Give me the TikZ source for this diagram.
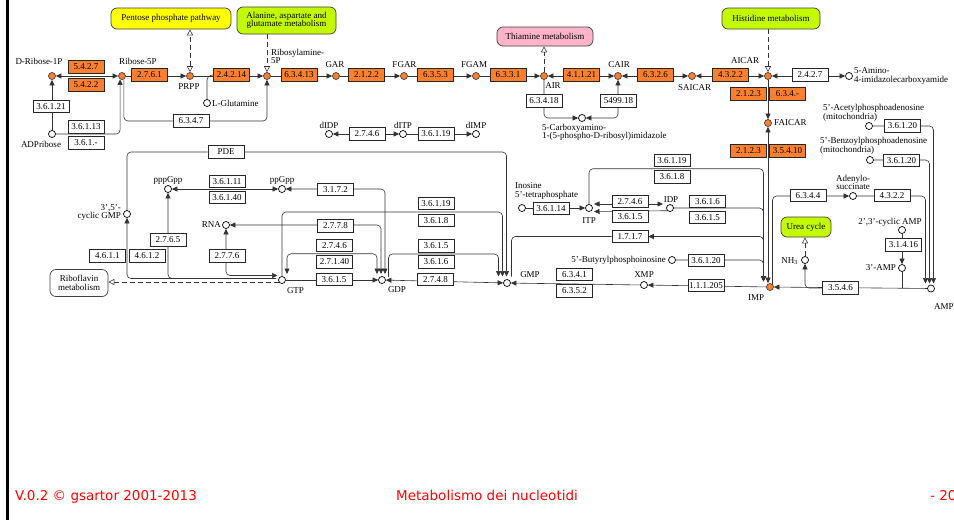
\documentclass[tikz,border=0pt]{standalone}
\usepackage{fontspec}
\setmainfont{Liberation Serif}
\newfontfamily\footfont{DejaVu Sans}
\usetikzlibrary{arrows.meta,calc}
\definecolor{keggorange}{RGB}{250,128,48}
\definecolor{mapyellow}{RGB}{255,255,0}
\definecolor{mapgreen}{RGB}{196,250,0}
\definecolor{mappink}{RGB}{255,180,204}
\definecolor{footred}{RGB}{255,0,0}
\newcommand{\kf}{\fontsize{9}{8.5}\selectfont}
\pgfdeclarelayer{back}
\pgfdeclarelayer{links}
\pgfsetlayers{back,links,main}
\tikzset{
  cpd/.style={circle,draw=black,fill=white,line width=0.7pt,minimum size=7pt,inner sep=0pt},
  cpdo/.style={cpd,draw=black!75,fill=keggorange},
  ec/.style={draw=black!85,fill=white,line width=0.6pt,minimum width=36pt,minimum height=12.5pt,inner sep=0.5pt,font=\kf},
  eco/.style={ec,fill=keggorange},
  mapbox/.style={draw=black!75,rounded corners=6pt,line width=0.7pt,inner sep=1pt,align=center,font=\kf},
  lbl/.style={inner sep=0pt,font=\kf,align=center},
  cline/.style={draw=black!80,line width=0.6pt},
  arr/.style={cline,-{Triangle[length=5.5pt,width=5pt]}},
  arr2/.style={cline,{Triangle[length=5.5pt,width=5pt]}-{Triangle[length=5.5pt,width=5pt]}},
  rc/.style={rounded corners=4pt},
  dlink/.style={draw=black!80,line width=0.6pt,dash pattern=on 5pt off 3pt,-{Triangle[open,length=6pt,width=6pt]}},
  dlinkb/.style={draw=black!80,line width=0.6pt,dash pattern=on 5pt off 3pt,{Triangle[open,length=6pt,width=6pt]}-{Triangle[open,length=6pt,width=6pt]}},
  foot/.style={inner sep=0pt,text=footred,font=\footfont\fontsize{13.5}{16}\selectfont}
}
\begin{document}
\begin{tikzpicture}[x=1pt,y=-1pt]
\useasboundingbox (0,0) rectangle (954,520);
\begin{pgfonlayer}{back}
\fill[white] (0,0) rectangle (954,520);
\end{pgfonlayer}
\fill[black] (6,0) rectangle (8.5,520);

% ---------- linked pathway maps ----------
\node[mapbox,fill=mapyellow,minimum width=120pt,minimum height=21pt] (ppp) at (171,18.5) {Pentose phosphate pathway};
\node[mapbox,fill=mapgreen,minimum width=99pt,minimum height=27pt] (ala) at (286.5,20.5) {Alanine, aspartate and\\glutamate metabolism};
\node[mapbox,fill=mappink,minimum width=96pt,minimum height=19pt] (thia) at (545,36.5) {Thiamine metabolism};
\node[mapbox,fill=mapgreen,minimum width=98pt,minimum height=21pt] (his) at (771,18.5) {Histidine metabolism};
\node[mapbox,fill=mapgreen,minimum width=50pt,minimum height=20pt] (urea) at (806,227) {Urea cycle};
\node[mapbox,fill=white,minimum width=58pt,minimum height=27pt] (ribo) at (79,283) {Riboflavin\\metabolism};

% ---------- compounds ----------
\node[cpdo] (rib1p) at (52,76) {};
\node[cpdo] (rib5p) at (122,76) {};
\node[cpdo] (prpp) at (190,76) {};
\node[cpdo] (ra5p) at (267,76) {};
\node[cpdo] (gar) at (336,76) {};
\node[cpdo] (fgar) at (404,76) {};
\node[cpdo] (fgam) at (476,76) {};
\node[cpdo] (air) at (544,76) {};
\node[cpdo] (cair) at (618,76) {};
\node[cpdo] (saicar) at (692,76) {};
\node[cpdo] (aicar) at (768,76) {};
\node[cpd] (aica) at (849,76) {};
\node[cpdo] (faicar) at (768,123) {};
\node[cpdo] (imp) at (770,287) {};
\node[cpd] (adpr) at (52,134) {};
\node[cpd] (lglu) at (207,103) {};
\node[cpd] (didp) at (329,134) {};
\node[cpd] (ditp) at (403,134) {};
\node[cpd] (dimp) at (476,134) {};
\node[cpd] (carbox) at (582,118) {};
\node[cpd] (cgmp) at (127,214) {};
\node[cpd] (pppgpp) at (168,189) {};
\node[cpd] (ppgpp) at (282,189) {};
\node[cpd] (rna) at (226,225) {};
\node[cpd] (gtp) at (282,280) {};
\node[cpd] (gdp) at (382,280) {};
\node[cpd] (gmp) at (507,283) {};
\node[cpd] (xmp) at (644,285) {};
\node[cpd] (itetra) at (522,208) {};
\node[cpd] (itp) at (589,208) {};
\node[cpd] (idp) at (670,208) {};
\node[cpd] (butyr) at (672,260) {};
\node[cpd] (acetyl) at (869,126) {};
\node[cpd] (benzoyl) at (870,160) {};
\node[cpd] (adsucc) at (853,196) {};
\node[cpd] (camp23) at (902,230) {};
\node[cpd] (amp3) at (902,268) {};
\node[cpd] (nh3) at (805,260) {};
\node[cpd] (amp) at (931,288.5) {};

% ---------- compound names ----------
\node[lbl] (t-rib1p) at (39,61) {D-Ribose-1P};
\node[lbl] (t-rib5p) at (138,61) {Ribose-5P};
\node[lbl] (t-prpp) at (189,87) {PRPP};
\node[lbl,align=left,anchor=west] (t-ra5p) at (271,56.5) {Ribosylamine-\\5P};
\node[lbl] (t-gar) at (335,65) {GAR};
\node[lbl] (t-fgar) at (404.5,65) {FGAR};
\node[lbl] (t-fgam) at (474,65) {FGAM};
\node[lbl] (t-air) at (553,85.5) {AIR};
\node[lbl] (t-cair) at (619,64.5) {CAIR};
\node[lbl] (t-saicar) at (694.5,88) {SAICAR};
\node[lbl] (t-aicar) at (745,61) {AICAR};
\node[lbl,align=left,anchor=west] (t-aica) at (854,76) {5-Amino-\\4-imidazolecarboxyamide};
\node[lbl,anchor=west] (t-faicar) at (774,123) {FAICAR};
\node[lbl] (t-imp) at (756,298) {IMP};
\node[lbl] (t-adpr) at (41,144) {ADPribose};
\node[lbl,anchor=west] (t-lglu) at (212,103) {L-Glutamine};
\node[lbl] (t-didp) at (329,125) {dIDP};
\node[lbl] (t-ditp) at (403,125) {dITP};
\node[lbl] (t-dimp) at (476,125) {dIMP};
\node[lbl,align=left,anchor=west] (t-carbox) at (542,132.5) {5-Carboxyamino-\\1-(5-phospho-D-ribosyl)imidazole};
\node[lbl,align=right,anchor=east] (t-cgmp) at (121,212.5) {3',5'-\\cyclic GMP};
\node[lbl] (t-pppgpp) at (168,180) {pppGpp};
\node[lbl] (t-ppgpp) at (282,180) {ppGpp};
\node[lbl,anchor=east] (t-rna) at (221,225) {RNA};
\node[lbl] (t-gtp) at (295.5,291) {GTP};
\node[lbl] (t-gdp) at (397,290) {GDP};
\node[lbl] (t-gmp) at (530,275) {GMP};
\node[lbl] (t-xmp) at (644,275) {XMP};
\node[lbl,align=left,anchor=west] (t-itetra) at (515,191) {Inosine\\5'-tetraphosphate};
\node[lbl] (t-itp) at (589,221) {ITP};
\node[lbl] (t-idp) at (671,200) {IDP};
\node[lbl,anchor=east] (t-butyr) at (666,260) {5'-Butyrylphosphoinosine};
\node[lbl,align=left,anchor=west] (t-acetyl) at (823,113) {5'-Acetylphosphoadenosine\\(mitochondria)};
\node[lbl,align=left,anchor=west] (t-benzoyl) at (820,146) {5'-Benzoylphosphoadenosine\\(mitochondria)};
\node[lbl] (t-adsucc) at (853,182.5) {Adenylo-\\succinate};
\node[lbl] (t-camp23) at (890,222) {2',3'-cyclic AMP};
\node[lbl,anchor=east] (t-amp3) at (896,268) {3'-AMP};
\node[lbl,anchor=east] (t-nh3) at (798,261) {NH\textsubscript{3}};
\node[lbl,anchor=west] (t-amp) at (934,307) {AMP};

% ---------- enzymes ----------
\node[eco] (e5427) at (86,67) {5.4.2.7};
\node[eco] (e5422) at (86,85) {5.4.2.2};
\node[eco] (e2761) at (149.5,75) {2.7.6.1};
\node[eco] (e24214) at (231.5,75) {2.4.2.14};
\node[eco] (e63413) at (299,75) {6.3.4.13};
\node[eco] (e2122) at (366.5,75) {2.1.2.2};
\node[eco] (e6353) at (435.5,75) {6.3.5.3};
\node[eco] (e6331) at (508,75) {6.3.3.1};
\node[eco] (e41121) at (581.5,75) {4.1.1.21};
\node[eco] (e6326) at (655.5,75) {6.3.2.6};
\node[eco] (e4322a) at (730.5,75) {4.3.2.2};
\node[ec] (e2427) at (810,75) {2.4.2.7};
\node[eco] (e2123a) at (748.5,94) {2.1.2.3};
\node[eco] (e634m) at (787.5,94) {6.3.4.-};
\node[eco] (e2123b) at (748.5,151) {2.1.2.3};
\node[eco] (e35410) at (787.5,151) {3.5.4.10};
\node[ec] (e36121) at (51,106.5) {3.6.1.21};
\node[ec] (e36113) at (86,127) {3.6.1.13};
\node[ec] (e3615m) at (86,143) {3.6.1.-};
\node[ec] (e6347) at (191,121) {6.3.4.7};
\node[ec] (e2746a) at (367,134) {2.7.4.6};
\node[ec] (e36119a) at (436,134) {3.6.1.19};
\node[ec] (e63418) at (544,101) {6.3.4.18};
\node[ec] (e549918) at (618.5,101) {5499.18};
\node[ec] (pde) at (226,152) {PDE};
\node[ec] (e36111) at (227,181.5) {3.6.1.11};
\node[ec] (e36140) at (227,197.5) {3.6.1.40};
\node[ec] (e2765) at (168,240) {2.7.6.5};
\node[ec] (e4611) at (107.5,256) {4.6.1.1};
\node[ec] (e4612) at (147,256) {4.6.1.2};
\node[ec] (e2776) at (227,256) {2.7.7.6};
\node[ec] (e3172) at (335.5,189.5) {3.1.7.2};
\node[ec] (e2778) at (335.5,226) {2.7.7.8};
\node[ec] (e2746b) at (334.5,245.5) {2.7.4.6};
\node[ec] (e27140) at (334.5,262) {2.7.1.40};
\node[ec] (e3615a) at (334,279.5) {3.6.1.5};
\node[ec] (e36119b) at (436,203.5) {3.6.1.19};
\node[ec] (e3618b) at (436,220.5) {3.6.1.8};
\node[ec] (e3615b) at (436,246) {3.6.1.5};
\node[ec] (e3616b) at (436,262) {3.6.1.6};
\node[ec] (e2748) at (435.5,279.5) {2.7.4.8};
\node[ec] (e36114) at (551,208.5) {3.6.1.14};
\node[ec] (e2746c) at (630,201.5) {2.7.4.6};
\node[ec] (e3615c) at (630,216.5) {3.6.1.5};
\node[ec] (e36119c) at (672,160.5) {3.6.1.19};
\node[ec] (e3618c) at (672,177) {3.6.1.8};
\node[ec] (e3616c) at (707.5,201.5) {3.6.1.6};
\node[ec] (e3615d) at (707.5,217.5) {3.6.1.5};
\node[ec] (e1717) at (630,236.5) {1.7.1.7};
\node[ec] (e36120c) at (706,260.5) {3.6.1.20};
\node[ec] (e6341) at (574.5,274.5) {6.3.4.1};
\node[ec] (e6352) at (574.5,291) {6.3.5.2};
\node[ec] (e111205) at (706,285.5) {1.1.1.205};
\node[ec] (e6344) at (808,195.5) {6.3.4.4};
\node[ec] (e4322b) at (892,195.5) {4.3.2.2};
\node[ec] (e31416) at (903.5,245) {3.1.4.16};
\node[ec] (e3546) at (840.5,288) {3.5.4.6};
\node[ec] (e36120a) at (902.5,126) {3.6.1.20};
\node[ec] (e36120b) at (901.5,160.5) {3.6.1.20};

% ---------- connector end points ----------
\coordinate (gmpA) at (498.5,276.5);
\coordinate (gmpB) at (502.5,276.5);
\coordinate (gmpC) at (506.5,276.5);
\coordinate (gmpD) at (511.5,276.5);
\coordinate (gdpA) at (377,274);
\coordinate (gdpB) at (381,274);
\coordinate (gdpC) at (385,274);
\coordinate (gdpO) at (388.5,277);
\coordinate (gtpA) at (287,274);
\coordinate (gtpU) at (277.5,275.5);
\coordinate (gtpL) at (276,278.5);
\coordinate (gtpR) at (278.5,282);
\coordinate (impA) at (763.5,281.5);
\coordinate (impB) at (772.5,284);
\coordinate (ampA) at (925.5,283.5);
\coordinate (ampB) at (929.5,283.5);
\coordinate (ampC) at (933.5,283.5);
\coordinate (itpU) at (594,204);
\coordinate (itpL) at (594,211.5);
\coordinate (idpU) at (663,204);
\coordinate (m2746) at ($(e2746b.south)!0.5!(e27140.north)$);
\coordinate (m36119b) at ($(e36119b.south)!0.5!(e3618b.north)$);
\coordinate (m3615b) at ($(e3615b.south)!0.5!(e3616b.north)$);
\coordinate (m36119c) at ($(e36119c.south)!0.5!(e3618c.north)$);

% ---------- reactions ----------
\begin{pgfonlayer}{links}
% purine ring assembly
\draw[arr2] (rib5p) -- (rib1p);
\draw[arr] (rib5p) -- (prpp);
\draw[arr] (prpp) -- (ra5p);
\draw[arr] (ra5p) -- (gar);
\draw[arr] (gar) -- (fgar);
\draw[arr] (fgar) -- (fgam);
\draw[arr] (fgam) -- (air);
\draw[arr2] (air) -- (cair);
\draw[arr2] (cair) -- (saicar);
\draw[arr2] (saicar) -- (aicar);
\draw[arr2] (aicar) -- (aica);
\draw[arr] (aicar) -- (faicar);
\draw[arr2] (faicar) -- (faicar |- imp.north);
\draw[arr] (adpr) -- (rib1p);
\draw[arr,rc] (adpr) -- (adpr -| rib5p.240) -- (rib5p.240);
\draw[arr,rc] (rib5p.300) |- (e6347) -| (ra5p);
\draw[cline,rc] (lglu) -- (lglu |- prpp) -- (e24214.west);
\draw[arr2] (ditp) -- (didp);
\draw[arr] (ditp) -- (dimp);
\draw[arr,rc] (air) |- (carbox);
\draw[arr2,rc] (cair) |- (carbox);
% links to other maps
\draw[dlinkb] (prpp) -- (prpp |- ppp.south);
\draw[dlink] (ala.south -| ra5p) -- (ra5p);
\draw[dlink] (air) -- (air |- thia.south);
\draw[dlink] (his.south -| aicar) -- (aicar);
\draw[dlink] (nh3) -- (nh3 |- urea.south);
\draw[dlink] (gtpR) -- (gtpR -| ribo.east);
% guanine nucleotides
\draw[cline,rc] (cgmp) |- (pde);
\draw[arr,rc] (pde) -| (gmpC);
\draw[arr,rc] (gtpL) -| (cgmp);
\draw[arr,rc] (gtpL) -| (pppgpp);
\draw[arr2,rc] (gtpU) -| (rna);
\draw[arr2] (pppgpp) -- (ppgpp);
\draw[arr2,rc] (ppgpp) -| (gdpC);
\draw[arr2,rc] (rna) -| (gdpB);
\draw[arr2,rc] (gtpA) |- (m2746) -| (gdpA);
\draw[arr] (gtp) -- (gdp);
\draw[arr,rc] (gtp) |- (m36119b) -| (gmpB);
\draw[arr,rc] (gdpO) |- (m3615b) -| (gmpA);
\draw[arr2] (gdp) -- (gmp);
\draw[arr] (xmp) -- (gmp);
\draw[arr] (imp) -- (xmp);
% inosine nucleotides
\draw[arr] (itetra) -- (itp);
\draw[arr2] (itpU) -- (idpU);
\draw[arr] (idp.south west) -- (itpL);
\draw[arr,rc] (itp) |- (m36119c) -| (impA);
\draw[arr,rc] (idp) -| (impA);
\draw[arr2,rc] (gmpD) |- (e1717) -| (impA);
\draw[arr,rc] (butyr) -| (impA);
% adenine nucleotides
\draw[arr,rc] (impB) |- (adsucc);
\draw[arr,rc] (adsucc) -| (ampA);
\draw[arr,rc] (acetyl) -| (ampC);
\draw[arr,rc] (benzoyl) -| (ampB);
\draw[arr] (amp) -- (imp);
\draw[arr,rc] (e3546.west) -| (nh3);
\draw[arr] (camp23) -- (amp3);
\draw[cline] (amp3) -- (amp3 |- e3546);
\end{pgfonlayer}

% ---------- footer ----------
\node[foot,anchor=base west] (foot1) at (15,500) {V.0.2 © gsartor 2001-2013};
\node[foot,anchor=base] (foot2) at (487,500) {Metabolismo dei nucleotidi};
\node[foot,anchor=base west] (foot3) at (930,500) {- 20};
\end{tikzpicture}
\end{document}
